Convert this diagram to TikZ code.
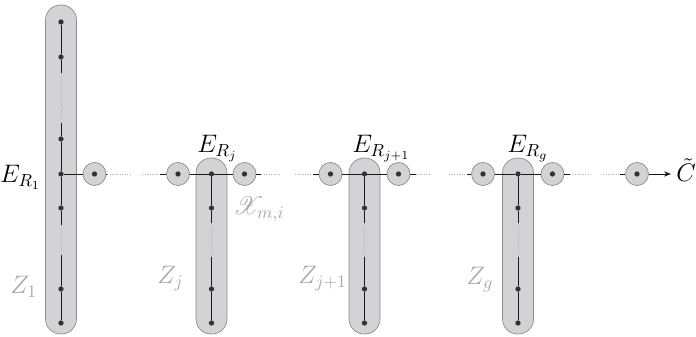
\documentclass[tikz,border=0pt]{standalone}
\usepackage{amsmath}
\usepackage{mathrsfs}
\usetikzlibrary{arrows.meta}

\definecolor{zonefill}{HTML}{D3D3D5}
\definecolor{zoneedge}{HTML}{8C8C8C}
\definecolor{knotcol}{HTML}{333333}
\definecolor{palecol}{HTML}{A8A8A8}

\begin{document}
\begin{tikzpicture}[
        x=0.02cm, y=-0.02cm,
        zone/.style={draw=zoneedge, fill=zonefill, rounded corners=0.3cm, minimum width=0.62cm, inner sep=0},
        blob/.style={circle, draw=zoneedge, fill=zonefill, minimum size=0.46cm, inner sep=0},
        knot/.style={circle, fill=knotcol, inner sep=0, minimum size=3pt},
        link/.style={black!90, line width=0.55pt},
        faint/.style={densely dotted, black!30, line width=0.45pt},
        lab/.style={inner sep=0, font=\fontsize{14}{16}\selectfont},
        pale/.style={lab, text=palecol}
    ]
        \useasboundingbox (0,0) rectangle (696,337);

        % the components Z
        \node[zone, minimum height=6.58cm] (Z1) at (61,169.5) {};
        \node[zone, minimum height=3.52cm] (Zj) at (211.5,246) {};
        \node[zone, minimum height=3.52cm] (Zk) at (364.5,246) {};
        \node[zone, minimum height=3.52cm] (Zg) at (518,246) {};

        % the small circles on the chain
        \node[blob] (o1) at (94.5,174) {};
        \node[blob] (o2l) at (178,174) {};
        \node[blob] (o2r) at (244.5,174) {};
        \node[blob] (o3l) at (330.5,174) {};
        \node[blob] (o3r) at (398.5,174) {};
        \node[blob] (o4l) at (483,174) {};
        \node[blob] (o4r) at (552.5,174) {};
        \node[blob] (o5) at (637,174) {};

        % points
        \node[knot] (a1) at (61,22) {};
        \node[knot] (a2) at (61,57) {};
        \node[knot] (a3) at (61,139) {};
        \node[knot] (a4) at (61,174) {};
        \node[knot] (a5) at (61,208) {};
        \node[knot] (a6) at (61,289) {};
        \node[knot] (a7) at (61,323) {};
        \node[knot] (j1) at (211.5,174) {};
        \node[knot] (j2) at (211.5,208) {};
        \node[knot] (j3) at (211.5,289) {};
        \node[knot] (j4) at (211.5,323) {};
        \node[knot] (k1) at (364.5,174) {};
        \node[knot] (k2) at (364.5,208) {};
        \node[knot] (k3) at (364.5,289) {};
        \node[knot] (k4) at (364.5,323) {};
        \node[knot] (g1) at (518,174) {};
        \node[knot] (g2) at (518,208) {};
        \node[knot] (g3) at (518,289) {};
        \node[knot] (g4) at (518,323) {};
        \node[knot] (p1) at (94.5,174) {};
        \node[knot] (p2l) at (178,174) {};
        \node[knot] (p2r) at (244.5,174) {};
        \node[knot] (p3l) at (330.5,174) {};
        \node[knot] (p3r) at (398.5,174) {};
        \node[knot] (p4l) at (483,174) {};
        \node[knot] (p4r) at (552.5,174) {};
        \node[knot] (p5) at (637,174) {};

        % free ends of the lines
        \coordinate (v1a) at (61,73);
        \coordinate (v1b) at (61,123);
        \coordinate (v1c) at (61,225);
        \coordinate (v1d) at (61,255);
        \coordinate (vja) at (211.5,223);
        \coordinate (vjb) at (211.5,257);
        \coordinate (vka) at (364.5,223);
        \coordinate (vkb) at (364.5,257);
        \coordinate (vga) at (518,223);
        \coordinate (vgb) at (518,257);
        \coordinate (h1a) at (107,174);
        \coordinate (h1b) at (130,174);
        \coordinate (h2a) at (142,174);
        \coordinate (h2b) at (160,174);
        \coordinate (h2c) at (261,174);
        \coordinate (h2d) at (279,174);
        \coordinate (h3a) at (295,174);
        \coordinate (h3b) at (313,174);
        \coordinate (h3c) at (416,174);
        \coordinate (h3d) at (429,174);
        \coordinate (h4a) at (449,174);
        \coordinate (h4b) at (467,174);
        \coordinate (h4c) at (570,174);
        \coordinate (h4d) at (588,174);
        \coordinate (h5a) at (603,174);
        \coordinate (h5b) at (620,174);
        \coordinate (tip) at (671,174);

        % vertical lines
        \draw[link] (a1) -- (a2) -- (v1a);
        \draw[faint] (v1a) -- (v1b);
        \draw[link] (v1b) -- (a3) -- (a4) -- (a5) -- (v1c);
        \draw[faint] (v1c) -- (v1d);
        \draw[link] (v1d) -- (a6) -- (a7);
        \draw[link] (j1) -- (j2) -- (vja);
        \draw[faint] (vja) -- (vjb);
        \draw[link] (vjb) -- (j3) -- (j4);
        \draw[link] (k1) -- (k2) -- (vka);
        \draw[faint] (vka) -- (vkb);
        \draw[link] (vkb) -- (k3) -- (k4);
        \draw[link] (g1) -- (g2) -- (vga);
        \draw[faint] (vga) -- (vgb);
        \draw[link] (vgb) -- (g3) -- (g4);

        % horizontal chain
        \draw[link] (a4) -- (o1);
        \draw[link] (o1) -- (h1a);
        \draw[faint] (h1a) -- (h1b);
        \draw[faint] (h2a) -- (h2b);
        \draw[link] (h2b) -- (o2l);
        \draw[link] (o2l) -- (j1);
        \draw[link] (j1) -- (o2r);
        \draw[link] (o2r) -- (h2c);
        \draw[faint] (h2c) -- (h2d);
        \draw[faint] (h3a) -- (h3b);
        \draw[link] (h3b) -- (o3l);
        \draw[link] (o3l) -- (k1);
        \draw[link] (k1) -- (o3r);
        \draw[link] (o3r) -- (h3c);
        \draw[faint] (h3c) -- (h3d);
        \draw[faint] (h4a) -- (h4b);
        \draw[link] (h4b) -- (o4l);
        \draw[link] (o4l) -- (g1);
        \draw[link] (g1) -- (o4r);
        \draw[link] (o4r) -- (h4c);
        \draw[faint] (h4c) -- (h4d);
        \draw[faint] (h5a) -- (h5b);
        \draw[link] (h5b) -- (o5);
        \draw[link, -{Stealth[length=4pt, width=3pt]}] (o5) -- (tip);

        % labels
        \node[lab, anchor=base east] (e1) at (41,183) {$E_{R_1}$};
        \node[lab, anchor=base west] (ej) at (197,153) {$E_{R_j}$};
        \node[lab, anchor=base west] (ek) at (352,153) {$E_{R_{j+1}}$};
        \node[lab, anchor=base west] (eg) at (507,153) {$E_{R_g}$};
        \node[pale, anchor=base west] (z1) at (10,294) {$Z_1$};
        \node[pale, anchor=base west] (zj) at (157,284) {$Z_j$};
        \node[pale, anchor=base west] (zk) at (298,284) {$Z_{j+1}$};
        \node[pale, anchor=base west] (zg) at (466,285) {$Z_g$};
        \node[pale, anchor=base west] (xmi) at (233,215) {$\mathscr{X}_{m,i}$};
        \node[lab, anchor=base west] (ct) at (676,182) {$\tilde{C}$};
    \end{tikzpicture}
\end{document}
